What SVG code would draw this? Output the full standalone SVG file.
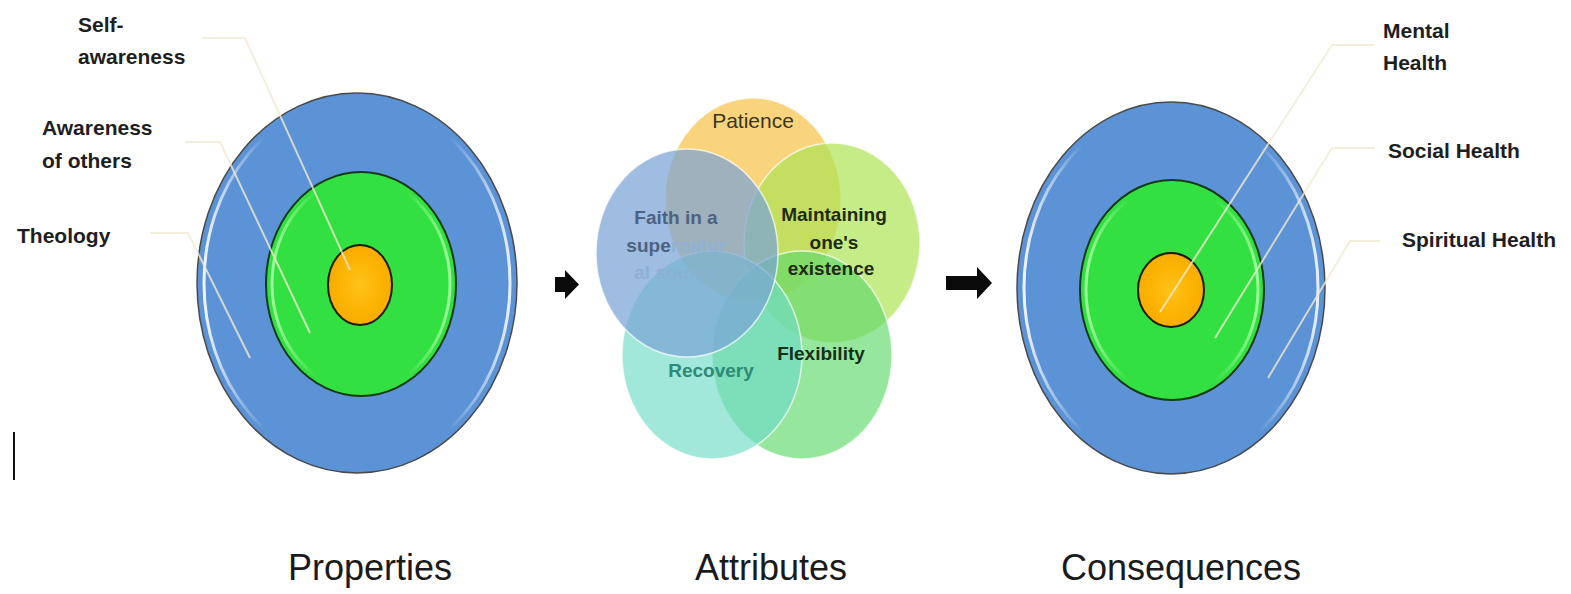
<svg xmlns="http://www.w3.org/2000/svg" width="1571" height="594" viewBox="0 0 1571 594">
<defs>
<style>
.lbl{font-family:"Liberation Sans",Arial,sans-serif;font-weight:bold;font-size:21px;fill:#1e1e1e}
.cap{font-family:"Liberation Sans",Arial,sans-serif;font-size:36px;fill:#1a1a1a;text-anchor:middle}
.vtx{font-family:"Liberation Sans",Arial,sans-serif;font-weight:bold;font-size:19px;text-anchor:middle}
.outer{fill:#5b93d6;stroke:#4a4a4a;stroke-width:1.5}
.mid{fill:#33e041;stroke:#153a15;stroke-width:2}
.core{fill:url(#gOrange);stroke:#1c1c10;stroke-width:2}
.gloss{fill:none;stroke:url(#gGloss);stroke-width:3}
.glossG{fill:none;stroke:url(#gGlossG);stroke-width:3}
.lead{fill:none;stroke:#f0e8d0;stroke-width:2;stroke-opacity:0.8}
.venn{stroke:#ffffff;stroke-width:1.5;stroke-opacity:0.7}
.arrow{fill:#0a0a0a}
</style>
<linearGradient id="gGloss" x1="0" y1="0" x2="1" y2="0">
<stop offset="0" stop-color="#ffffff" stop-opacity="0.9"/>
<stop offset="0.2" stop-color="#ffffff" stop-opacity="0"/>
<stop offset="0.8" stop-color="#ffffff" stop-opacity="0"/>
<stop offset="1" stop-color="#ffffff" stop-opacity="0.85"/>
</linearGradient>
<linearGradient id="gGlossG" x1="0" y1="0" x2="1" y2="0">
<stop offset="0" stop-color="#b8ffb0" stop-opacity="0.8"/>
<stop offset="0.25" stop-color="#b8ffb0" stop-opacity="0"/>
<stop offset="0.75" stop-color="#b8ffb0" stop-opacity="0"/>
<stop offset="1" stop-color="#b8ffb0" stop-opacity="0.8"/>
</linearGradient>
<radialGradient id="gOrange" cx="0.5" cy="0.5" r="0.6">
<stop offset="0" stop-color="#ffc21a"/>
<stop offset="0.6" stop-color="#fbb200"/>
<stop offset="1" stop-color="#f5a800"/>
</radialGradient>
</defs>
<rect width="1571" height="594" fill="#ffffff"/>

<g id="properties-target">
<ellipse class="outer" cx="357" cy="283" rx="160" ry="190"/>
<ellipse class="gloss" cx="357" cy="283" rx="153" ry="183"/>
<ellipse class="mid" cx="361" cy="284" rx="95" ry="112"/>
<ellipse class="glossG" cx="361" cy="284" rx="89" ry="106"/>
<ellipse class="core" cx="360" cy="285" rx="32" ry="40"/>
</g>

<g id="consequences-target">
<ellipse class="outer" cx="1171" cy="288" rx="154" ry="186"/>
<ellipse class="gloss" cx="1171" cy="288" rx="147" ry="179"/>
<ellipse class="mid" cx="1172" cy="290" rx="92" ry="110"/>
<ellipse class="glossG" cx="1172" cy="290" rx="86" ry="104"/>
<ellipse class="core" cx="1171" cy="290" rx="33" ry="37"/>
</g>

<g id="attributes-venn">
<ellipse class="venn" cx="753" cy="200" rx="88" ry="102" fill="#f7c550" fill-opacity="0.75"/>
<ellipse class="venn" cx="832" cy="243" rx="88" ry="100" fill="#aee454" fill-opacity="0.7"/>
<ellipse class="venn" cx="802" cy="355" rx="90" ry="104" fill="#5fd86a" fill-opacity="0.65"/>
<ellipse class="venn" cx="712" cy="355" rx="90" ry="104" fill="#6fdcc8" fill-opacity="0.65"/>
<ellipse class="venn" cx="687" cy="253" rx="91" ry="104" fill="#7aa3d6" fill-opacity="0.72"/>
</g>

<g id="connectors">
<polyline class="lead" points="202,38 245,38 350,270"/>
<polyline class="lead" points="185,142 220,142 310,333"/>
<polyline class="lead" points="150,233 188,233 250,358"/>
<polyline class="lead" points="1375,45 1332,45 1160,312"/>
<polyline class="lead" points="1375,148 1332,148 1215,338"/>
<polyline class="lead" points="1380,241 1350,241 1268,378"/>
<path class="arrow" d="M555,277 H565 V270 L579,284.5 L565,299 V292 H555 Z"/>
<path class="arrow" d="M946,276 H977 V267 L992,283 L977,299 V290 H946 Z"/>
</g>

<g id="label-self-awareness"><text class="lbl" x="78" y="32">Self-</text><text class="lbl" x="78" y="64">awareness</text></g>
<g id="label-awareness-of-others"><text class="lbl" x="42" y="135">Awareness</text><text class="lbl" x="42" y="168">of others</text></g>
<g id="label-theology"><text class="lbl" x="17" y="243">Theology</text></g>

<g id="label-mental"><text class="lbl" x="1383" y="38">Mental</text><text class="lbl" x="1383" y="70">Health</text></g>
<g id="label-social"><text class="lbl" x="1388" y="158">Social Health</text></g>
<g id="label-spiritual"><text class="lbl" x="1402" y="247">Spiritual Health</text></g>

<g id="venn-patience"><text x="753" y="128" font-family="Liberation Sans,Arial,sans-serif" font-size="21" text-anchor="middle" fill="#3b3620">Patience</text></g>
<g id="venn-faith"><text class="vtx" x="676" y="224" fill="#4d6282">Faith in a</text><text class="vtx" x="676" y="252" fill="#4d6282">supe<tspan fill="#8fb2d6">rnatur</tspan></text><text class="vtx" x="676" y="279" fill="#8cb0d2">al source</text></g>
<g id="venn-maintaining"><text class="vtx" x="834" y="221" fill="#1e2a12">Maintaining</text><text class="vtx" x="834" y="249" fill="#1e2a12">one's</text><text class="vtx" x="831" y="275" fill="#1e2a12">existence</text></g>
<g id="venn-flexibility"><text class="vtx" x="821" y="360" fill="#163018">Flexibility</text></g>
<g id="venn-recovery"><text class="vtx" x="711" y="377" fill="#2d8a76">Recovery</text></g>

<g id="captions">
<text class="cap" x="370" y="580">Properties</text>
<text class="cap" x="771" y="580">Attributes</text>
<text class="cap" x="1181" y="580">Consequences</text>
</g>
<line x1="14" y1="432" x2="14" y2="480" stroke="#111" stroke-width="2"/>
</svg>
